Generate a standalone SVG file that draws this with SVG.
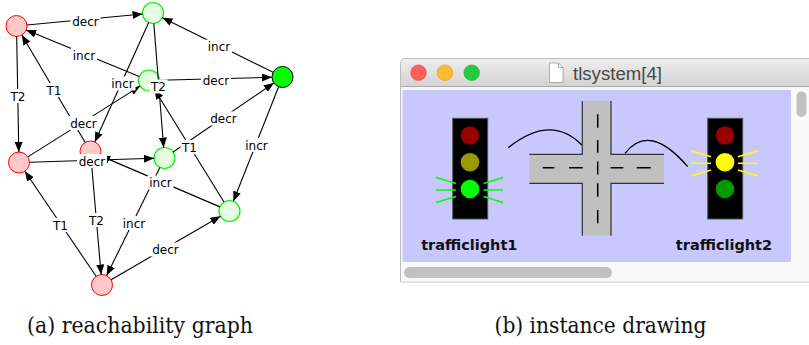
<svg xmlns="http://www.w3.org/2000/svg" width="809" height="345" viewBox="0 0 809 345">
  <defs>
    <marker id="arrow" markerUnits="userSpaceOnUse" markerWidth="11" markerHeight="9" refX="10" refY="4" orient="auto">
      <path d="M0,0 L10,4 L0,8 z" fill="#000"/>
    </marker>
    <linearGradient id="titlebar" x1="0" y1="0" x2="0" y2="1">
      <stop offset="0" stop-color="#ededed"/>
      <stop offset="1" stop-color="#d4d4d4"/>
    </linearGradient>
    <style>
      .red { fill: #ffc8c8; stroke: #ff0000; stroke-width: 1; }
      .pale { fill: #e6ffe2; stroke: #00f000; stroke-width: 1.2; }
      .full { fill: #00ff00; stroke: #000; stroke-width: 1; }
      .edge { stroke: #000; stroke-width: 1.1; fill: none; marker-end: url(#arrow); }
      .lbg { fill: #fff; }
      .lbl { font-family: "DejaVu Sans", sans-serif; font-size: 12px; fill: #000; text-anchor: middle; }
      .cap { font-family: "DejaVu Serif", serif; font-size: 22px; fill: #111; }
      .tl { fill: #000; stroke: #555; stroke-width: 1; }
      .ray1 { stroke: #00ff00; stroke-width: 1.6; }
      .ray2 { stroke: #ffff00; stroke-width: 1.6; }
      .road { fill: #c0c0c0; }
      .curb { stroke: #333; stroke-width: 1.2; fill: none; }
      .dash { stroke: #000; stroke-width: 1.5; fill: none; }
      .wire { stroke: #000; stroke-width: 1.3; fill: none; }
      .name { font-family: "DejaVu Sans", sans-serif; font-weight: bold; font-size: 14.5px; fill: #111; text-anchor: middle; }
    </style>
  </defs>

  <!-- reachability graph: states -->
  <g id="nA"><circle class="red" cx="16.5" cy="26" r="10.5"/></g>
  <g id="nB"><circle class="pale" cx="153" cy="13" r="10.5"/></g>
  <g id="nC"><circle class="pale" cx="149" cy="80.5" r="10.5"/></g>
  <g id="nD"><circle class="full" cx="282.5" cy="77" r="10.5"/></g>
  <g id="nE"><circle class="red" cx="90.5" cy="151.5" r="10.5"/></g>
  <g id="nF"><circle class="red" cx="19" cy="162.5" r="10.5"/></g>
  <g id="nG"><circle class="pale" cx="164.5" cy="158" r="10.5"/></g>
  <g id="nH"><circle class="pale" cx="229.5" cy="211" r="10.5"/></g>
  <g id="nI"><circle class="red" cx="102" cy="285" r="10.5"/></g>

  <!-- reachability graph: transitions -->
  <g id="connectors">
    <line class="edge" x1="26.95" y1="25.0" x2="142.55" y2="14.0"/>
    <line class="edge" x1="139.29" y1="76.51" x2="26.21" y2="29.99"/>
    <line class="edge" x1="85.17" y1="142.46" x2="21.83" y2="35.04"/>
    <line class="edge" x1="16.69" y1="36.5" x2="18.81" y2="152.0"/>
    <line class="edge" x1="148.68" y1="22.57" x2="94.82" y2="141.93"/>
    <line class="edge" x1="153.83" y1="23.47" x2="163.67" y2="147.53"/>
    <line class="edge" x1="223.99" y1="202.06" x2="154.51" y2="89.44"/>
    <line class="edge" x1="159.5" y1="80.22" x2="272.0" y2="77.28"/>
    <line class="edge" x1="273.09" y1="72.35" x2="162.41" y2="17.65"/>
    <line class="edge" x1="278.64" y1="86.76" x2="233.36" y2="201.24"/>
    <line class="edge" x1="173.16" y1="152.06" x2="273.84" y2="82.94"/>
    <line class="edge" x1="27.88" y1="156.9" x2="140.12" y2="86.1"/>
    <line class="edge" x1="29.49" y1="162.18" x2="154.01" y2="158.32"/>
    <line class="edge" x1="219.85" y1="206.87" x2="100.15" y2="155.63"/>
    <line class="edge" x1="159.86" y1="167.42" x2="106.64" y2="275.58"/>
    <line class="edge" x1="91.4" y1="161.96" x2="101.1" y2="274.54"/>
    <line class="edge" x1="96.11" y1="276.31" x2="24.89" y2="171.19"/>
    <line class="edge" x1="111.08" y1="279.73" x2="220.42" y2="216.27"/>

    <!-- transition labels -->
    <rect class="lbg" x="70.5" y="14" width="30" height="14"/><text class="lbl" x="85.5" y="25.5">decr</text>
    <rect class="lbg" x="71" y="48" width="26" height="14"/><text class="lbl" x="84" y="59.5">incr</text>
    <rect class="lbg" x="45" y="83" width="18" height="14"/><text class="lbl" x="54" y="94.5">T1</text>
    <rect class="lbg" x="9" y="89" width="18" height="14"/><text class="lbl" x="18" y="100.5">T2</text>
    <rect class="lbg" x="109.5" y="76.5" width="26" height="14"/><text class="lbl" x="122.5" y="88">incr</text>
    <rect class="lbg" x="149.5" y="79.5" width="18" height="14"/><text class="lbl" x="158.5" y="91">T2</text>
    <rect class="lbg" x="180.5" y="140" width="18" height="14"/><text class="lbl" x="189.5" y="151.5">T1</text>
    <rect class="lbg" x="201" y="73" width="30" height="14"/><text class="lbl" x="216" y="84.5">decr</text>
    <rect class="lbg" x="206" y="39.5" width="26" height="14"/><text class="lbl" x="219" y="51">incr</text>
    <rect class="lbg" x="243.5" y="138" width="26" height="14"/><text class="lbl" x="256.5" y="149.5">incr</text>
    <rect class="lbg" x="208.5" y="111.5" width="30" height="14"/><text class="lbl" x="223.5" y="123">decr</text>
    <rect class="lbg" x="68.5" y="116" width="30" height="14"/><text class="lbl" x="83.5" y="127.5">decr</text>
    <rect class="lbg" x="77" y="154" width="30" height="14"/><text class="lbl" x="92" y="165.5">decr</text>
    <rect class="lbg" x="147.5" y="175.5" width="26" height="14"/><text class="lbl" x="160.5" y="187">incr</text>
    <rect class="lbg" x="121" y="216" width="26" height="14"/><text class="lbl" x="134" y="227.5">incr</text>
    <rect class="lbg" x="87.5" y="213" width="18" height="14"/><text class="lbl" x="96.5" y="224.5">T2</text>
    <rect class="lbg" x="51.5" y="218" width="18" height="14"/><text class="lbl" x="60.5" y="229.5">T1</text>
    <rect class="lbg" x="150.5" y="242.5" width="30" height="14"/><text class="lbl" x="165.5" y="254">decr</text>
  </g>

  <!-- application window -->
  <g id="window">
    <path d="M400.5,282 V64 Q400.5,58.5 406,58.5 H812 V282 Z" fill="#f6f6f6" stroke="#bcbcbc" stroke-width="1"/>
    <path d="M401,86 V64 Q401,59 406,59 H812 V86 Z" fill="url(#titlebar)"/>
    <line x1="401" y1="86.5" x2="809" y2="86.5" stroke="#a9a9a9" stroke-width="1"/>
    <circle cx="418.5" cy="72.7" r="7.8" fill="#fe5f57" stroke="#e2463f" stroke-width="0.6"/>
    <circle cx="445" cy="72.7" r="7.8" fill="#febb2e" stroke="#e09e1a" stroke-width="0.6"/>
    <circle cx="471.7" cy="72.7" r="7.8" fill="#28c840" stroke="#1aab29" stroke-width="0.6"/>
    <path d="M549.5,63 H558.5 L563,67.5 V82.5 H549.5 Z" fill="#fff" stroke="#9a9a9a" stroke-width="0.8"/>
    <path d="M558.5,63 V67.5 H563" fill="none" stroke="#9a9a9a" stroke-width="0.8"/>
    <text x="617.5" y="79.5" font-family="Liberation Sans, Arial, sans-serif" font-size="18" fill="#4a4a4a" text-anchor="middle" textLength="89" lengthAdjust="spacingAndGlyphs">tlsystem[4]</text>

    <rect x="402.5" y="90" width="388.5" height="172" fill="#c8c8ff"/>
    <rect x="791" y="88" width="18" height="174" fill="#fafafa"/>
    <rect x="401" y="262" width="408" height="19.5" fill="#f9f9f9"/>
    <rect x="404" y="267" width="208" height="11" rx="5.5" fill="#c1c1c1"/>
    <rect x="796.5" y="91.5" width="10" height="25.5" rx="5" fill="#c1c1c1"/>
  </g>

  <!-- crossroad -->
  <g id="crossroad">
    <rect class="road" x="582.3" y="101" width="28.7" height="134.7"/>
    <rect class="road" x="529.3" y="154.3" width="134.7" height="29"/>
    <path class="curb" d="M582.3,101 V154.3 H529.3 M529.3,183.3 H582.3 V235.7 M611,101 V154.3 H664 M664,183.3 H611 V235.7"/>
    <path class="dash" d="M542.7,167.7 H554.3 M569,167.7 H582.7 M610.7,167.7 H623.3 M636.7,167.7 H650.7"/>
    <path class="dash" d="M597.7,114.3 V127.7 M597.7,140 V152.7 M597.7,161.5 V174.5 M597.7,183.3 V196.7 M597.7,210 V223.3"/>
  </g>

  <!-- wires linking the lights to the crossing -->
  <path class="wire" d="M508.3,147.7 Q551,113.6 581.7,145"/>
  <path class="wire" d="M625,153.3 Q649.6,122 687.7,166.7"/>

  <!-- traffic light 1 (green) -->
  <g id="trafficlight1">
    <rect class="tl" x="452.7" y="118.3" width="35" height="100.7"/>
    <circle cx="470" cy="135.5" r="9.3" fill="#990000"/>
    <circle cx="470" cy="162.2" r="9.3" fill="#999900"/>
    <circle cx="470" cy="189" r="9.3" fill="#00ff00"/>
    <path class="ray1" d="M436,177.5 L456,183.5 M436,190 H456 M436,202.5 L456,196.5 M483.5,183.5 L503,177.5 M483.5,190 H503 M483.5,196.5 L503,202.5"/>
    <text class="name" x="469.3" y="250">trafficlight1</text>
  </g>

  <!-- traffic light 2 (yellow) -->
  <g id="trafficlight2">
    <rect class="tl" x="707.7" y="118.3" width="35" height="100.7"/>
    <circle cx="725" cy="135.5" r="9.3" fill="#990000"/>
    <circle cx="725" cy="162.2" r="9.3" fill="#ffff00"/>
    <circle cx="725" cy="189" r="9.3" fill="#009900"/>
    <path class="ray2" d="M691,150.7 L711,156.7 M691,163.3 H711 M691,176 L711,170 M738,156.7 L758,150.7 M738,163.3 H758 M738,170 L758,176"/>
    <text class="name" x="724" y="250">trafficlight2</text>
  </g>

  <!-- sub-figure captions -->
  <text class="cap" x="27" y="333" textLength="226" lengthAdjust="spacingAndGlyphs">(a) reachability graph</text>
  <text class="cap" x="494.5" y="333" textLength="212" lengthAdjust="spacingAndGlyphs">(b) instance drawing</text>
</svg>
